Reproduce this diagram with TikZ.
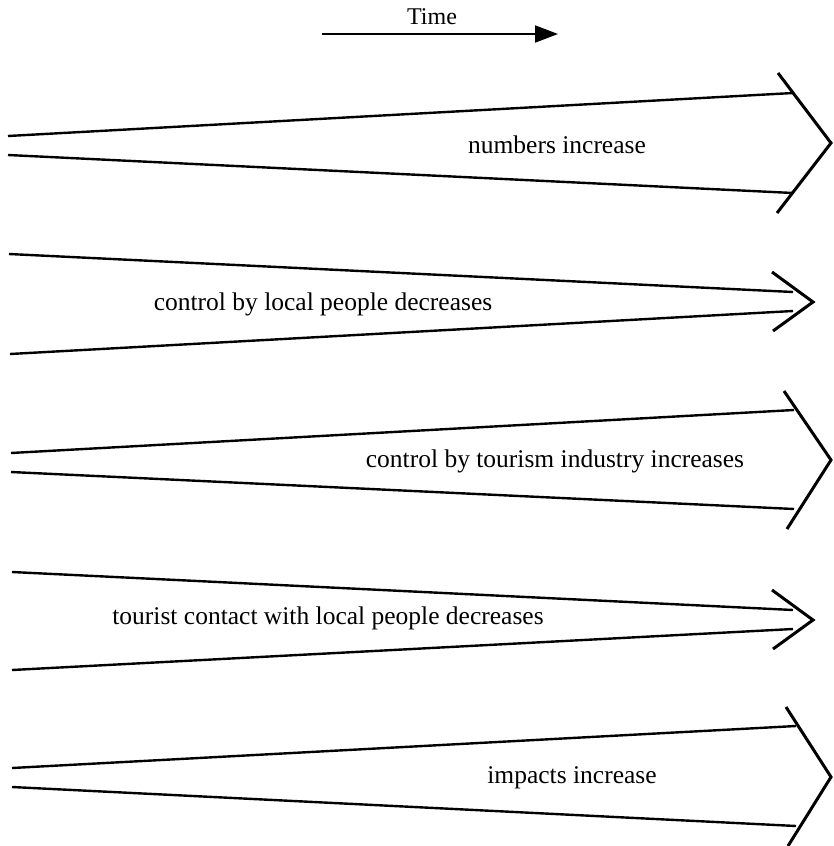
\documentclass[tikz,border=0pt]{standalone}
\usepackage{fontspec}
\setmainfont{Liberation Serif}
\usetikzlibrary{arrows.meta}
\begin{document}
\begin{tikzpicture}[x=1pt,y=-1pt,
  bandline/.style={line width=2.4pt},
  chevron/.style={line width=3pt,line join=miter},
  lbl/.style={font=\fontsize{25.5}{30}\selectfont,inner sep=0pt},
  timearrow/.style={line width=2pt,-{Triangle[length=23pt,width=17pt]}}]
\useasboundingbox (0,0) rectangle (833,846);
% Time
\node[lbl,font=\fontsize{24}{28}\selectfont] (time) at (432,17) {Time};
\coordinate (ts) at (322,34);
\coordinate (te) at (558,34);
\draw[timearrow] (ts) -- (te);
% Arrow 1
\coordinate (a1tl) at (8,136); \coordinate (a1tr) at (793,93);
\coordinate (a1bl) at (8,155); \coordinate (a1br) at (793,193);
\coordinate (a1c1) at (778,73); \coordinate (a1tip) at (831,143); \coordinate (a1c2) at (777,213);
\draw[bandline] (a1tl) -- (a1tr);
\draw[bandline] (a1bl) -- (a1br);
\draw[chevron] (a1c1) -- (a1tip) -- (a1c2);
\node[lbl] (t1) at (557,145) {numbers increase};
% Arrow 2
\coordinate (a2tl) at (9,254); \coordinate (a2tr) at (793,292);
\coordinate (a2bl) at (10,354); \coordinate (a2br) at (793,311);
\coordinate (a2c1) at (772,272); \coordinate (a2tip) at (813,302); \coordinate (a2c2) at (773,331);
\draw[bandline] (a2tl) -- (a2tr);
\draw[bandline] (a2bl) -- (a2br);
\draw[chevron] (a2c1) -- (a2tip) -- (a2c2);
\node[lbl] (t2) at (323,304) {control by local people decreases};
% Arrow 3
\coordinate (a3tl) at (11,453); \coordinate (a3tr) at (794,410);
\coordinate (a3bl) at (11,472); \coordinate (a3br) at (794,509);
\coordinate (a3c1) at (784,391); \coordinate (a3tip) at (831,460); \coordinate (a3c2) at (787,529);
\draw[bandline] (a3tl) -- (a3tr);
\draw[bandline] (a3bl) -- (a3br);
\draw[chevron] (a3c1) -- (a3tip) -- (a3c2);
\node[lbl] (t3) at (555,461) {control by tourism industry increases};
% Arrow 4
\coordinate (a4tl) at (12,572); \coordinate (a4tr) at (793,610);
\coordinate (a4bl) at (12,670); \coordinate (a4br) at (793,629);
\coordinate (a4c1) at (772,590); \coordinate (a4tip) at (813,620); \coordinate (a4c2) at (773,649);
\draw[bandline] (a4tl) -- (a4tr);
\draw[bandline] (a4bl) -- (a4br);
\draw[chevron] (a4c1) -- (a4tip) -- (a4c2);
\node[lbl] (t4) at (328,618) {tourist contact with local people decreases};
% Arrow 5
\coordinate (a5tl) at (12,768); \coordinate (a5tr) at (796,726);
\coordinate (a5bl) at (12,787); \coordinate (a5br) at (796,826);
\coordinate (a5c1) at (786,707); \coordinate (a5tip) at (831,777); \coordinate (a5c2) at (788,846);
\draw[bandline] (a5tl) -- (a5tr);
\draw[bandline] (a5bl) -- (a5br);
\draw[chevron] (a5c1) -- (a5tip) -- (a5c2);
\node[lbl] (t5) at (572,778) {impacts increase};
\end{tikzpicture}
\end{document}
